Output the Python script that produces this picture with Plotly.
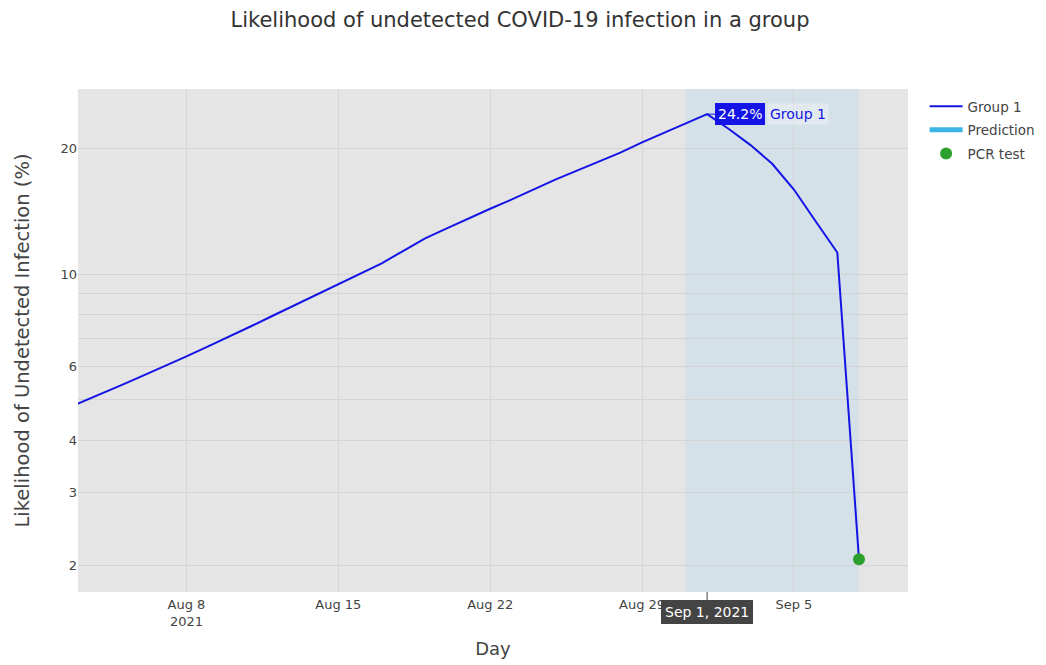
import math
import pandas as pd
import plotly.graph_objects as go

# ---------------- data ----------------
group_start = "2021-08-03"
group_values = [
    4.89, 5.14, 5.42, 5.71, 6.01, 6.35, 6.71, 7.09, 7.51, 7.96,
    8.43, 8.93, 9.47, 10.03, 10.62, 11.38, 12.19, 12.88, 13.61, 14.35,
    15.11, 15.96, 16.86, 17.72, 18.62, 19.56, 20.71, 21.84, 22.95, 24.2,
    22.3, 20.4, 18.4, 15.96, 13.39, 11.27, 2.07,
]
group_dates = list(pd.date_range(group_start, periods=len(group_values), freq="D"))

prediction_start = "2021-08-31"
prediction_end = "2021-09-08"

pcr_dates = ["2021-09-08"]
pcr_values = [2.07]

y_tick_values = [2, 3, 4, 5, 6, 7, 8, 9, 10, 20]
y_tick_text = ["2", "3", "4", "", "6", "", "", "", "10", "20"]

title_text = "Likelihood of undetected COVID-19 infection in a group"
x_title = "Day"
y_title = "Likelihood of Undetected Infection (%)"

# hovered point shown in the reference
peak_idx = group_values.index(max(group_values))
peak_date = group_dates[peak_idx]
peak_value = group_values[peak_idx]

FONT = "Verdana, DejaVu Sans, sans-serif"
BLUE = "#1414e6"

fig = go.Figure()

fig.add_trace(go.Scatter(
    x=group_dates, y=group_values, mode="lines", name="Group 1",
    legendgroup="g1", line=dict(color=BLUE, width=2),
))
fig.add_trace(go.Scatter(
    x=[None], y=[None], mode="lines", name="Prediction",
    legendgroup="g2", line=dict(color="#3cb6e8", width=5),
))
fig.add_trace(go.Scatter(
    x=pcr_dates, y=pcr_values, mode="markers", name="PCR test",
    legendgroup="g3", marker=dict(color="#2ca02c", size=12),
))

fig.add_vrect(
    x0=prediction_start, x1=prediction_end,
    fillcolor="rgb(212,225,232)", line_width=0, layer="below",
)

# hover-style labels (annotation y on a log axis is given in log10 units)
peak_log = math.log10(peak_value)
fig.add_annotation(
    x=peak_date, y=peak_log, xref="x", yref="y",
    text=f"{peak_value:.1f}%", showarrow=True, ax=33, ay=0,
    arrowhead=0, arrowwidth=1, arrowcolor=BLUE,
    bgcolor=BLUE, bordercolor=BLUE, borderpad=2,
    font=dict(family=FONT, size=14, color="white"),
)
fig.add_annotation(
    x=peak_date, y=peak_log, xref="x", yref="y",
    text="Group 1", showarrow=False, xanchor="left", xshift=60,
    bgcolor="rgba(235,240,245,0.6)", borderpad=2,
    font=dict(family=FONT, size=14, color=BLUE),
)
fig.add_annotation(
    x=peak_date, y=0, xref="x", yref="paper",
    text=peak_date.strftime("%b %-d, %Y"), showarrow=True, ax=0, ay=20,
    arrowhead=0, arrowwidth=1, arrowcolor="#444444",
    bgcolor="#444444", bordercolor="#444444", borderpad=3,
    font=dict(family=FONT, size=14, color="white"),
)

fig.update_layout(
    width=1038, height=657,
    margin=dict(l=70, r=138, t=81, b=73, autoexpand=False),
    paper_bgcolor="white",
    plot_bgcolor="#e5e5e5",
    font=dict(family=FONT, size=13, color="#444444"),
    title=dict(text=title_text, x=512 / 1038, xref="container", y=1 - 12 / 657,
               yanchor="middle", font=dict(size=21, color="#333333")),
    legend=dict(font=dict(size=13.5), tracegroupgap=3, itemwidth=33, y=0.996,
                x=1.02, xanchor="left"),
    showlegend=True,
)
fig.update_xaxes(
    title=dict(text=x_title, font=dict(size=18), standoff=14),
    type="date", tick0="2021-08-08", dtick=7 * 24 * 3600 * 1000,
    ticklabelstandoff=3, automargin=False,
    gridcolor="#d4d4d4", showline=False, zeroline=False,
)
fig.update_yaxes(
    title=dict(text=y_title, font=dict(size=19.5), standoff=25),
    type="log", tickvals=y_tick_values, ticktext=y_tick_text,
    automargin=False,
    gridcolor="#d4d4d4", showline=False, zeroline=False,
)

fig.write_html("out.html")
